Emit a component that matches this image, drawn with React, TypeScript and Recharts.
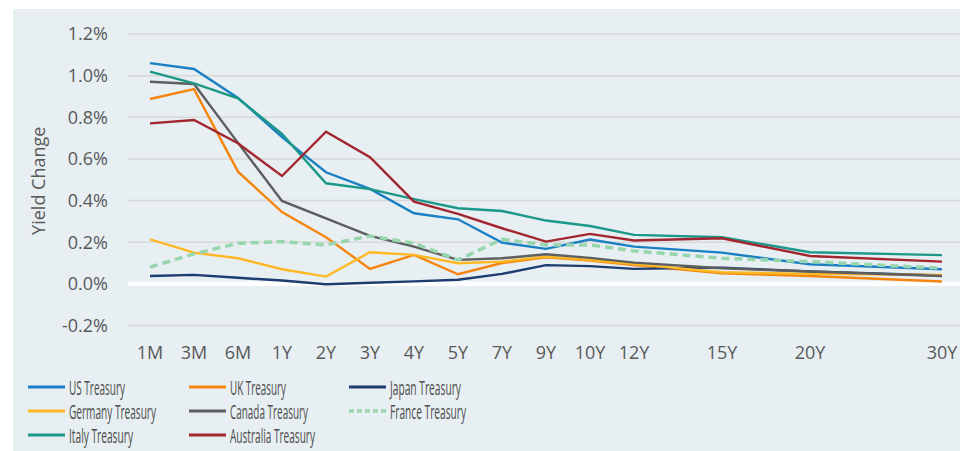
import React from 'react';
import { LineChart, Line, XAxis, YAxis, CartesianGrid, ReferenceLine, Label } from 'recharts';

// Category slots (Excel-style category axis with blank slots between long tenors)
const tenors = ['1M', '3M', '6M', '1Y', '2Y', '3Y', '4Y', '5Y', '7Y', '9Y', '10Y', '12Y', '', '15Y', '', '20Y', '', '', '30Y'];

const usTreasury = [1.06, 1.032, 0.893, 0.705, 0.536, 0.456, 0.339, 0.31, 0.198, 0.168, 0.213, 0.179, null, 0.15, null, 0.094, null, null, 0.07];
const ukTreasury = [0.888, 0.935, 0.539, 0.345, 0.224, 0.072, 0.139, 0.046, 0.1, 0.128, 0.112, 0.09, null, 0.051, null, 0.038, null, null, 0.011];
const japanTreasury = [0.038, 0.043, 0.029, 0.016, -0.002, 0.005, 0.012, 0.02, 0.048, 0.09, 0.085, 0.072, null, 0.078, null, 0.059, null, null, 0.04];
const germanyTreasury = [0.214, 0.15, 0.123, 0.07, 0.035, 0.152, 0.139, 0.099, 0.107, 0.131, 0.115, 0.095, null, 0.056, null, 0.048, null, null, 0.043];
const canadaTreasury = [0.971, 0.96, 0.677, 0.398, 0.315, 0.23, 0.179, 0.115, 0.123, 0.142, 0.125, 0.102, null, 0.075, null, 0.059, null, null, 0.038];
const franceTreasury = [0.08, 0.144, 0.195, 0.203, 0.187, 0.23, 0.195, 0.115, 0.214, 0.187, 0.187, 0.158, null, 0.123, null, 0.107, null, null, 0.075];
const italyTreasury = [1.019, 0.963, 0.891, 0.72, 0.483, 0.455, 0.407, 0.363, 0.35, 0.304, 0.278, 0.235, null, 0.224, null, 0.152, null, null, 0.138];
const australiaTreasury = [0.771, 0.787, 0.675, 0.518, 0.731, 0.608, 0.395, 0.336, 0.267, 0.203, 0.24, 0.208, null, 0.219, null, 0.134, null, null, 0.107];

const yTicks = [-0.2, 0, 0.2, 0.4, 0.6, 0.8, 1.0, 1.2];

const series = [
  { key: 'us', name: 'US Treasury', values: usTreasury, color: '#1b7fc3', dash: undefined },
  { key: 'uk', name: 'UK Treasury', values: ukTreasury, color: '#f5850f', dash: undefined },
  { key: 'jp', name: 'Japan Treasury', values: japanTreasury, color: '#1d3c70', dash: undefined },
  { key: 'de', name: 'Germany Treasury', values: germanyTreasury, color: '#fdb823', dash: undefined },
  { key: 'ca', name: 'Canada Treasury', values: canadaTreasury, color: '#5e5e5e', dash: undefined },
  { key: 'fr', name: 'France Treasury', values: franceTreasury, color: '#97d5ad', dash: '8 5' },
  { key: 'it', name: 'Italy Treasury', values: italyTreasury, color: '#1b988a', dash: undefined },
  { key: 'au', name: 'Australia Treasury', values: australiaTreasury, color: '#a3262f', dash: undefined },
];

const data = tenors.map((t, i) => {
  const row: Record<string, any> = { tenor: t };
  series.forEach((s) => {
    row[s.key] = s.values[i];
  });
  return row;
});

const FONT = '"Open Sans", sans-serif';
const TEXT = '#595959';

function LegendOverlay() {
  const colX = [28, 189, 349];
  const rowY = [387, 411, 435];
  // condensed legend label widths as seen in the reference
  const labelWidth = [56, 56, 71, 87, 78, 76, 64, 85];
  return (
    <svg width={960} height={451} style={{ position: 'absolute', left: 0, top: 0, pointerEvents: 'none' }}>
      {series.map((s, i) => {
        const cx = colX[i % 3];
        const cy = rowY[Math.floor(i / 3)];
        return (
          <g key={s.key}>
            <line
              x1={cx}
              x2={cx + 37}
              y1={cy}
              y2={cy}
              stroke={s.color}
              strokeWidth={s.dash ? 3.5 : 3}
              strokeDasharray={s.dash ? '5 3' : undefined}
            />
            <text
              x={cx + 41}
              y={cy + 7.5}
              textLength={labelWidth[i]}
              lengthAdjust="spacingAndGlyphs"
              fontFamily={FONT}
              fontSize={19.5}
              fill="#4d4d4d"
            >
              {s.name}
            </text>
          </g>
        );
      })}
    </svg>
  );
}

export default function App() {
  return (
    <div style={{ position: 'absolute', left: 0, top: 0, width: 960, height: 451, background: '#ffffff', overflow: 'hidden' }}>
      <div style={{ position: 'absolute', left: 13, top: 9, width: 947, height: 442, background: '#e7eff2' }} />
      <div style={{ position: 'absolute', left: 0, top: 0 }}>
        <LineChart
          width={960}
          height={451}
          data={data}
          margin={{ top: 34, right: 0, bottom: 0, left: 0 }}
          style={{ fontFamily: FONT }}
        >
          <CartesianGrid horizontal vertical={false} stroke="#d8d8d8" strokeWidth={1.5} />
          <XAxis
            dataKey="tenor"
            interval={0}
            axisLine={false}
            tickLine={false}
            tickSize={0}
            tickMargin={21}
            height={125.5}
            padding={{ left: 22, right: 18 }}
            tick={{ fill: TEXT, fontSize: 18, fontFamily: FONT }}
          />
          <YAxis
            type="number"
            domain={[-0.2, 1.2]}
            ticks={yTicks}
            allowDataOverflow
            axisLine={false}
            tickLine={false}
            tickSize={0}
            tickMargin={20}
            width={128}
            tick={{ fill: TEXT, fontSize: 18, fontFamily: FONT }}
            tickFormatter={(v: number) => `${v.toFixed(1)}%`}
          >
            <Label
              content={(props: any) => {
                const vb = props.viewBox || { y: 34, height: 291.5 };
                const cy = vb.y + vb.height / 2 + 1;
                return (
                  <text
                    x={45}
                    y={cy}
                    transform={`rotate(-90, 45, ${cy})`}
                    textAnchor="middle"
                    fontFamily={FONT}
                    fontSize={18}
                    fill={TEXT}
                  >
                    Yield Change
                  </text>
                );
              }}
            />
          </YAxis>
          <ReferenceLine y={0} stroke="#ffffff" strokeWidth={4.5} />
          {series.map((s) => (
            <Line
              key={s.key}
              type="linear"
              dataKey={s.key}
              name={s.name}
              stroke={s.color}
              strokeWidth={s.dash ? 3.5 : 2.4}
              strokeDasharray={s.dash}
              dot={false}
              activeDot={false}
              connectNulls
              isAnimationActive={false}
            />
          ))}
        </LineChart>
      </div>
      <LegendOverlay />
    </div>
  );
}
